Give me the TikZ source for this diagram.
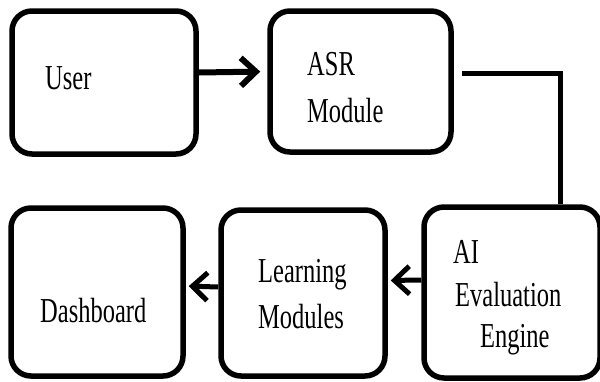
\documentclass[tikz,border=0pt]{standalone}
\usepackage{fontspec}
\newfontfamily\lblfont{Liberation Serif}[FakeStretch=0.7]
\usetikzlibrary{arrows.meta}
\begin{document}
\begin{tikzpicture}[x=1pt,y=-1pt,
  box/.style={draw=black, line width=5.5pt, rounded corners=20pt, fill=white, inner sep=0pt},
  lbl/.style={anchor=base west, inner sep=0pt, font=\lblfont\fontsize{35}{42}\selectfont},
  flow/.style={line width=5pt, -{Straight Barb[length=15pt,width=28pt]}},
  link/.style={line width=5pt}
]
\useasboundingbox (0,0) rectangle (600,381);

% process boxes
\node[box, minimum width=184pt, minimum height=143pt] (user)  at (104,82.5) {};
\node[box, minimum width=181pt, minimum height=141pt] (asr)   at (360.5,81.5) {};
\node[box, minimum width=176pt, minimum height=171pt] (ai)    at (512,292.5) {};
\node[box, minimum width=164pt, minimum height=166pt] (learn) at (303,293) {};
\node[box, minimum width=172pt, minimum height=168pt] (dash)  at (97,292) {};

% labels
\node[lbl] (tUser)   at (45,89)    {User};
\node[lbl] (tAsrA)   at (307,75.5) {ASR};
\node[lbl] (tAsrB)   at (307,122)  {Module};
\node[lbl] (tLearnA) at (258,282)  {Learning};
\node[lbl] (tLearnB) at (258,328)  {Modules};
\node[lbl] (tAiA)    at (453,263)  {AI};
\node[lbl] (tAiB)    at (455,306)  {Evaluation};
\node[lbl] (tAiC)    at (480,347)  {Engine};
\node[lbl] (tDash)   at (40,322)   {Dashboard};

% connectors
\draw[flow, line width=6pt, shorten >=7pt] ([yshift=10pt]user.east) -- ([yshift=10pt]asr.west);
\coordinate (asrout) at (462,73.5);
\draw[link] (asrout) -| ([xshift=48pt]ai.north);
\draw[flow, shorten >=3pt] ([yshift=12.5pt]ai.west) -- ([yshift=12.5pt]learn.east);
\draw[flow, shorten >=3pt] ([yshift=6pt]learn.west) -- ([yshift=6pt]dash.east);
\end{tikzpicture}
\end{document}
